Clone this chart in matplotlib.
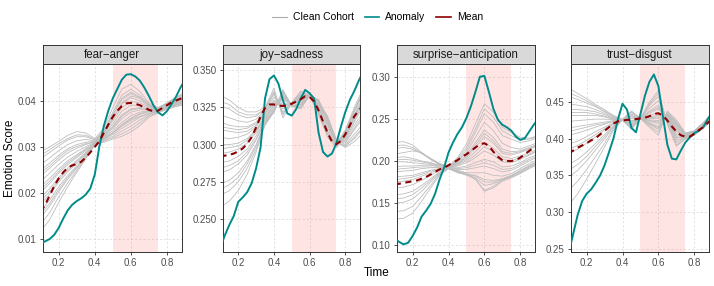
import matplotlib.pyplot as plt
from matplotlib.lines import Line2D

plt.rcParams['font.family'] = ['Liberation Sans', 'DejaVu Sans']

# time grids
x_fine = [0.100, 0.125, 0.150, 0.175, 0.200, 0.225, 0.250, 0.275, 0.300, 0.325, 0.350,
          0.375, 0.400, 0.425, 0.450, 0.475, 0.500, 0.525, 0.550, 0.575, 0.600, 0.625,
          0.650, 0.675, 0.700, 0.725, 0.750, 0.775, 0.800, 0.825, 0.850, 0.875, 0.900]
x_coarse = [0.10, 0.15, 0.20, 0.25, 0.30, 0.35, 0.40, 0.45, 0.50, 0.55, 0.60, 0.65,
            0.70, 0.75, 0.80, 0.85, 0.90]

# ---- fear-anger
fa_anomaly = [0.0092, 0.0096, 0.0101, 0.0110, 0.0125, 0.0145, 0.0163, 0.0175, 0.0183, 0.0189, 0.0197,
              0.0210, 0.0240, 0.0300, 0.0345, 0.0378, 0.0405, 0.0425, 0.0445, 0.0456, 0.0457, 0.0452,
              0.0443, 0.0428, 0.0410, 0.0390, 0.0375, 0.0368, 0.0377, 0.0392, 0.0408, 0.0428, 0.0445]
fa_mean = [0.0160, 0.0175, 0.0195, 0.0215, 0.0232, 0.0245, 0.0255, 0.0260, 0.0263, 0.0268, 0.0277,
           0.0288, 0.0300, 0.0312, 0.0330, 0.0348, 0.0365, 0.0378, 0.0388, 0.0394, 0.0395, 0.0393,
           0.0390, 0.0385, 0.0380, 0.0377, 0.0378, 0.0384, 0.0390, 0.0396, 0.0400, 0.0404, 0.0407]
fa_cohort = [
    [0.0290, 0.0300, 0.0312, 0.0325, 0.0333, 0.0330, 0.0318, 0.0340, 0.0385, 0.0425, 0.0435, 0.0420, 0.0395, 0.0385, 0.0395, 0.0408, 0.0418],
    [0.0282, 0.0294, 0.0307, 0.0318, 0.0326, 0.0325, 0.0316, 0.0330, 0.0360, 0.0395, 0.0410, 0.0405, 0.0391, 0.0384, 0.0394, 0.0406, 0.0416],
    [0.0275, 0.0288, 0.0302, 0.0315, 0.0322, 0.0322, 0.0315, 0.0335, 0.0375, 0.0412, 0.0424, 0.0412, 0.0392, 0.0383, 0.0393, 0.0405, 0.0415],
    [0.0262, 0.0276, 0.0292, 0.0305, 0.0313, 0.0316, 0.0313, 0.0332, 0.0368, 0.0402, 0.0415, 0.0406, 0.0390, 0.0382, 0.0392, 0.0403, 0.0413],
    [0.0250, 0.0265, 0.0282, 0.0296, 0.0305, 0.0310, 0.0312, 0.0330, 0.0362, 0.0393, 0.0406, 0.0400, 0.0388, 0.0381, 0.0391, 0.0402, 0.0411],
    [0.0244, 0.0259, 0.0277, 0.0292, 0.0301, 0.0307, 0.0311, 0.0333, 0.0370, 0.0405, 0.0418, 0.0408, 0.0389, 0.0381, 0.0390, 0.0401, 0.0410],
    [0.0238, 0.0254, 0.0272, 0.0287, 0.0297, 0.0305, 0.0311, 0.0328, 0.0356, 0.0385, 0.0398, 0.0395, 0.0386, 0.0380, 0.0390, 0.0400, 0.0409],
    [0.0226, 0.0243, 0.0262, 0.0278, 0.0290, 0.0300, 0.0310, 0.0326, 0.0350, 0.0377, 0.0390, 0.0390, 0.0384, 0.0380, 0.0389, 0.0399, 0.0407],
    [0.0214, 0.0232, 0.0252, 0.0270, 0.0283, 0.0296, 0.0309, 0.0324, 0.0345, 0.0369, 0.0382, 0.0385, 0.0382, 0.0379, 0.0388, 0.0397, 0.0405],
    [0.0208, 0.0226, 0.0247, 0.0266, 0.0280, 0.0294, 0.0308, 0.0318, 0.0330, 0.0348, 0.0362, 0.0372, 0.0377, 0.0378, 0.0386, 0.0395, 0.0402],
    [0.0202, 0.0221, 0.0243, 0.0262, 0.0277, 0.0292, 0.0308, 0.0322, 0.0340, 0.0361, 0.0375, 0.0380, 0.0380, 0.0378, 0.0387, 0.0396, 0.0403],
    [0.0190, 0.0210, 0.0234, 0.0254, 0.0271, 0.0288, 0.0307, 0.0320, 0.0335, 0.0353, 0.0367, 0.0375, 0.0378, 0.0378, 0.0386, 0.0394, 0.0401],
    [0.0183, 0.0204, 0.0229, 0.0250, 0.0268, 0.0286, 0.0306, 0.0321, 0.0342, 0.0366, 0.0380, 0.0383, 0.0380, 0.0377, 0.0386, 0.0394, 0.0400],
    [0.0176, 0.0198, 0.0224, 0.0246, 0.0265, 0.0284, 0.0306, 0.0318, 0.0331, 0.0346, 0.0360, 0.0370, 0.0376, 0.0377, 0.0385, 0.0393, 0.0399],
    [0.0162, 0.0185, 0.0214, 0.0238, 0.0259, 0.0281, 0.0305, 0.0316, 0.0327, 0.0340, 0.0352, 0.0364, 0.0373, 0.0376, 0.0384, 0.0391, 0.0397],
    [0.0155, 0.0178, 0.0208, 0.0234, 0.0256, 0.0279, 0.0305, 0.0317, 0.0330, 0.0345, 0.0357, 0.0366, 0.0372, 0.0376, 0.0384, 0.0391, 0.0396],
    [0.0148, 0.0172, 0.0203, 0.0230, 0.0254, 0.0278, 0.0305, 0.0314, 0.0323, 0.0334, 0.0345, 0.0358, 0.0370, 0.0375, 0.0383, 0.0390, 0.0395],
    [0.0133, 0.0158, 0.0192, 0.0222, 0.0249, 0.0276, 0.0304, 0.0312, 0.0320, 0.0328, 0.0338, 0.0352, 0.0367, 0.0374, 0.0382, 0.0388, 0.0393],
    [0.0118, 0.0143, 0.0180, 0.0214, 0.0245, 0.0274, 0.0304, 0.0310, 0.0317, 0.0323, 0.0332, 0.0346, 0.0364, 0.0373, 0.0381, 0.0387, 0.0391],
]

# ---- joy-sadness
js_anomaly = [0.231, 0.239, 0.246, 0.252, 0.2615, 0.2645, 0.268, 0.274, 0.284, 0.298, 0.331,
              0.344, 0.3465, 0.341, 0.330, 0.321, 0.3195, 0.324, 0.331, 0.3368, 0.3345, 0.331,
              0.308, 0.295, 0.292, 0.294, 0.301, 0.312, 0.322, 0.330, 0.336, 0.343, 0.349]
js_mean = [0.2918, 0.2926, 0.2932, 0.2940, 0.2955, 0.2974, 0.3005, 0.3050, 0.3115, 0.3190, 0.3245,
           0.3270, 0.3270, 0.3262, 0.3260, 0.3263, 0.3275, 0.3290, 0.3305, 0.3325, 0.3320, 0.3290,
           0.3230, 0.3155, 0.3080, 0.3020, 0.3003, 0.3025, 0.3070, 0.3130, 0.3190, 0.3230, 0.3260]
js_cohort = [
    [0.333, 0.330, 0.325, 0.322, 0.322, 0.325, 0.338, 0.318, 0.328, 0.336, 0.333, 0.320, 0.305, 0.298, 0.305, 0.318, 0.330],
    [0.329, 0.327, 0.322, 0.320, 0.320, 0.324, 0.335, 0.321, 0.328, 0.333, 0.333, 0.322, 0.308, 0.300, 0.306, 0.319, 0.331],
    [0.326, 0.324, 0.320, 0.318, 0.319, 0.324, 0.336, 0.320, 0.328, 0.335, 0.333, 0.321, 0.307, 0.299, 0.307, 0.320, 0.332],
    [0.320, 0.318, 0.316, 0.315, 0.317, 0.323, 0.334, 0.322, 0.328, 0.334, 0.333, 0.322, 0.309, 0.299, 0.308, 0.322, 0.334],
    [0.315, 0.313, 0.312, 0.312, 0.315, 0.322, 0.332, 0.324, 0.327, 0.333, 0.333, 0.323, 0.311, 0.300, 0.309, 0.323, 0.336],
    [0.312, 0.311, 0.310, 0.311, 0.314, 0.321, 0.329, 0.327, 0.327, 0.331, 0.333, 0.325, 0.314, 0.301, 0.309, 0.323, 0.336],
    [0.310, 0.309, 0.308, 0.309, 0.313, 0.321, 0.330, 0.326, 0.327, 0.332, 0.333, 0.324, 0.313, 0.300, 0.310, 0.325, 0.338],
    [0.305, 0.304, 0.305, 0.307, 0.312, 0.320, 0.328, 0.328, 0.327, 0.331, 0.333, 0.325, 0.315, 0.301, 0.308, 0.322, 0.335],
    [0.300, 0.300, 0.301, 0.304, 0.310, 0.319, 0.326, 0.330, 0.327, 0.330, 0.333, 0.326, 0.317, 0.301, 0.306, 0.318, 0.330],
    [0.297, 0.298, 0.299, 0.303, 0.309, 0.318, 0.327, 0.331, 0.327, 0.330, 0.333, 0.327, 0.317, 0.302, 0.305, 0.316, 0.328],
    [0.294, 0.295, 0.297, 0.301, 0.308, 0.318, 0.325, 0.332, 0.327, 0.329, 0.333, 0.327, 0.318, 0.302, 0.304, 0.315, 0.326],
    [0.288, 0.289, 0.292, 0.297, 0.306, 0.317, 0.324, 0.333, 0.326, 0.328, 0.333, 0.328, 0.319, 0.302, 0.303, 0.313, 0.322],
    [0.284, 0.286, 0.289, 0.295, 0.304, 0.316, 0.323, 0.333, 0.326, 0.327, 0.333, 0.329, 0.318, 0.303, 0.302, 0.311, 0.320],
    [0.281, 0.283, 0.287, 0.293, 0.303, 0.316, 0.323, 0.334, 0.326, 0.327, 0.333, 0.329, 0.319, 0.303, 0.301, 0.310, 0.318],
    [0.274, 0.276, 0.281, 0.289, 0.300, 0.315, 0.322, 0.335, 0.326, 0.326, 0.333, 0.329, 0.318, 0.303, 0.300, 0.307, 0.314],
    [0.270, 0.273, 0.278, 0.287, 0.299, 0.314, 0.322, 0.336, 0.326, 0.325, 0.333, 0.330, 0.317, 0.302, 0.299, 0.305, 0.312],
    [0.266, 0.269, 0.275, 0.284, 0.297, 0.314, 0.322, 0.336, 0.326, 0.325, 0.333, 0.330, 0.317, 0.302, 0.299, 0.304, 0.311],
    [0.258, 0.262, 0.269, 0.280, 0.295, 0.313, 0.322, 0.337, 0.326, 0.324, 0.333, 0.330, 0.316, 0.302, 0.298, 0.302, 0.308],
]

# ---- surprise-anticipation
sa_anomaly = [0.108, 0.104, 0.101, 0.103, 0.111, 0.121, 0.134, 0.141, 0.149, 0.161, 0.178,
              0.192, 0.210, 0.222, 0.232, 0.240, 0.251, 0.265, 0.282, 0.300, 0.301, 0.282,
              0.262, 0.249, 0.243, 0.240, 0.236, 0.229, 0.225, 0.227, 0.235, 0.243, 0.250]
sa_mean = [0.172, 0.173, 0.174, 0.175, 0.176, 0.177, 0.179, 0.181, 0.184, 0.187, 0.190,
           0.192, 0.195, 0.198, 0.201, 0.205, 0.208, 0.212, 0.216, 0.220, 0.221, 0.218,
           0.211, 0.205, 0.201, 0.200, 0.200, 0.201, 0.204, 0.208, 0.212, 0.216, 0.219]
sa_cohort = [
    [0.222, 0.223, 0.219, 0.210, 0.202, 0.196, 0.193, 0.204, 0.220, 0.244, 0.268, 0.258, 0.240, 0.234, 0.228, 0.227, 0.230],
    [0.218, 0.219, 0.216, 0.209, 0.202, 0.196, 0.193, 0.202, 0.216, 0.238, 0.262, 0.252, 0.236, 0.230, 0.225, 0.226, 0.229],
    [0.215, 0.216, 0.214, 0.209, 0.203, 0.197, 0.193, 0.200, 0.213, 0.234, 0.256, 0.246, 0.230, 0.226, 0.222, 0.224, 0.228],
    [0.208, 0.210, 0.212, 0.210, 0.203, 0.197, 0.193, 0.199, 0.210, 0.228, 0.246, 0.236, 0.221, 0.216, 0.214, 0.218, 0.222],
    [0.204, 0.205, 0.203, 0.200, 0.198, 0.195, 0.193, 0.198, 0.207, 0.222, 0.237, 0.228, 0.214, 0.211, 0.212, 0.216, 0.220],
    [0.201, 0.202, 0.201, 0.199, 0.197, 0.195, 0.193, 0.197, 0.205, 0.219, 0.233, 0.224, 0.211, 0.209, 0.211, 0.215, 0.219],
    [0.199, 0.199, 0.198, 0.197, 0.196, 0.194, 0.193, 0.197, 0.204, 0.216, 0.229, 0.221, 0.209, 0.207, 0.210, 0.214, 0.218],
    [0.193, 0.194, 0.194, 0.195, 0.195, 0.193, 0.192, 0.196, 0.202, 0.211, 0.222, 0.215, 0.205, 0.203, 0.206, 0.210, 0.214],
    [0.190, 0.191, 0.192, 0.193, 0.193, 0.192, 0.192, 0.195, 0.200, 0.207, 0.217, 0.211, 0.202, 0.200, 0.204, 0.208, 0.213],
    [0.187, 0.188, 0.189, 0.191, 0.192, 0.192, 0.192, 0.194, 0.198, 0.204, 0.212, 0.207, 0.199, 0.198, 0.202, 0.207, 0.212],
    [0.181, 0.182, 0.183, 0.186, 0.189, 0.191, 0.192, 0.192, 0.194, 0.198, 0.202, 0.199, 0.193, 0.194, 0.198, 0.204, 0.208],
    [0.178, 0.179, 0.181, 0.184, 0.188, 0.190, 0.192, 0.191, 0.192, 0.195, 0.198, 0.195, 0.190, 0.191, 0.196, 0.202, 0.206],
    [0.175, 0.176, 0.178, 0.182, 0.186, 0.190, 0.192, 0.190, 0.190, 0.192, 0.194, 0.191, 0.187, 0.189, 0.194, 0.200, 0.205],
    [0.168, 0.169, 0.172, 0.177, 0.183, 0.189, 0.191, 0.189, 0.186, 0.186, 0.186, 0.183, 0.182, 0.185, 0.191, 0.197, 0.202],
    [0.160, 0.161, 0.164, 0.171, 0.179, 0.187, 0.191, 0.188, 0.184, 0.183, 0.178, 0.177, 0.179, 0.183, 0.189, 0.195, 0.200],
    [0.155, 0.156, 0.160, 0.168, 0.177, 0.186, 0.191, 0.188, 0.184, 0.182, 0.175, 0.175, 0.178, 0.182, 0.188, 0.194, 0.199],
    [0.150, 0.151, 0.155, 0.164, 0.175, 0.185, 0.191, 0.187, 0.183, 0.180, 0.171, 0.173, 0.178, 0.182, 0.187, 0.193, 0.198],
    [0.140, 0.141, 0.146, 0.158, 0.171, 0.184, 0.191, 0.186, 0.184, 0.178, 0.165, 0.170, 0.177, 0.181, 0.186, 0.192, 0.197],
    [0.131, 0.132, 0.138, 0.152, 0.168, 0.183, 0.191, 0.187, 0.186, 0.179, 0.164, 0.168, 0.176, 0.180, 0.185, 0.191, 0.196],
]

# ---- trust-disgust
td_anomaly = [0.244, 0.270, 0.296, 0.315, 0.325, 0.331, 0.340, 0.350, 0.364, 0.382, 0.401,
              0.427, 0.448, 0.440, 0.415, 0.409, 0.434, 0.459, 0.478, 0.488, 0.472, 0.431,
              0.392, 0.373, 0.372, 0.384, 0.395, 0.402, 0.408, 0.411, 0.416, 0.427, 0.436]
td_mean = [0.380, 0.384, 0.388, 0.391, 0.394, 0.398, 0.401, 0.406, 0.411, 0.416, 0.421,
           0.424, 0.425, 0.426, 0.426, 0.427, 0.428, 0.429, 0.431, 0.434, 0.435, 0.432,
           0.425, 0.417, 0.410, 0.405, 0.403, 0.403, 0.407, 0.412, 0.416, 0.422, 0.427]
td_cohort = [
    [0.470, 0.462, 0.455, 0.447, 0.440, 0.432, 0.427, 0.438, 0.428, 0.450, 0.466, 0.420, 0.390, 0.400, 0.405, 0.415, 0.425],
    [0.463, 0.458, 0.452, 0.445, 0.438, 0.431, 0.426, 0.437, 0.428, 0.448, 0.462, 0.421, 0.392, 0.400, 0.405, 0.415, 0.425],
    [0.458, 0.454, 0.449, 0.444, 0.437, 0.430, 0.426, 0.436, 0.428, 0.446, 0.458, 0.422, 0.395, 0.401, 0.406, 0.416, 0.426],
    [0.448, 0.446, 0.444, 0.440, 0.435, 0.429, 0.426, 0.434, 0.428, 0.442, 0.452, 0.425, 0.398, 0.402, 0.406, 0.416, 0.427],
    [0.440, 0.440, 0.439, 0.437, 0.433, 0.428, 0.426, 0.432, 0.428, 0.438, 0.446, 0.427, 0.401, 0.403, 0.407, 0.417, 0.428],
    [0.436, 0.436, 0.436, 0.434, 0.431, 0.427, 0.426, 0.431, 0.428, 0.437, 0.443, 0.427, 0.402, 0.403, 0.407, 0.417, 0.429],
    [0.432, 0.432, 0.432, 0.432, 0.430, 0.427, 0.426, 0.430, 0.428, 0.435, 0.441, 0.428, 0.404, 0.404, 0.407, 0.418, 0.430],
    [0.424, 0.425, 0.426, 0.427, 0.427, 0.426, 0.426, 0.428, 0.428, 0.432, 0.436, 0.429, 0.407, 0.404, 0.408, 0.419, 0.431],
    [0.415, 0.417, 0.419, 0.421, 0.423, 0.425, 0.426, 0.425, 0.428, 0.430, 0.432, 0.430, 0.410, 0.405, 0.408, 0.419, 0.431],
    [0.410, 0.413, 0.416, 0.419, 0.421, 0.424, 0.426, 0.424, 0.428, 0.429, 0.430, 0.430, 0.411, 0.405, 0.408, 0.419, 0.431],
    [0.405, 0.408, 0.412, 0.416, 0.420, 0.424, 0.426, 0.423, 0.428, 0.428, 0.428, 0.431, 0.413, 0.405, 0.409, 0.420, 0.432],
    [0.393, 0.397, 0.403, 0.410, 0.416, 0.422, 0.426, 0.421, 0.428, 0.426, 0.425, 0.432, 0.415, 0.406, 0.409, 0.420, 0.433],
    [0.386, 0.391, 0.398, 0.406, 0.414, 0.421, 0.426, 0.420, 0.428, 0.425, 0.423, 0.432, 0.416, 0.406, 0.409, 0.420, 0.433],
    [0.380, 0.386, 0.394, 0.403, 0.412, 0.420, 0.426, 0.419, 0.428, 0.424, 0.421, 0.433, 0.418, 0.406, 0.410, 0.421, 0.433],
    [0.365, 0.372, 0.382, 0.394, 0.406, 0.418, 0.426, 0.417, 0.428, 0.422, 0.417, 0.434, 0.420, 0.407, 0.410, 0.421, 0.434],
    [0.357, 0.365, 0.376, 0.390, 0.403, 0.417, 0.426, 0.416, 0.428, 0.421, 0.415, 0.435, 0.421, 0.407, 0.410, 0.421, 0.434],
    [0.348, 0.357, 0.370, 0.385, 0.400, 0.416, 0.426, 0.415, 0.428, 0.420, 0.413, 0.435, 0.422, 0.407, 0.410, 0.422, 0.434],
    [0.330, 0.342, 0.358, 0.376, 0.394, 0.414, 0.426, 0.414, 0.428, 0.418, 0.409, 0.437, 0.424, 0.408, 0.411, 0.422, 0.435],
    [0.310, 0.325, 0.345, 0.367, 0.389, 0.412, 0.426, 0.413, 0.428, 0.416, 0.405, 0.438, 0.426, 0.408, 0.411, 0.422, 0.435],
]

titles = ['fear\u2212anger', 'joy\u2212sadness', 'surprise\u2212anticipation', 'trust\u2212disgust']
cohorts = [fa_cohort, js_cohort, sa_cohort, td_cohort]
anomalies = [fa_anomaly, js_anomaly, sa_anomaly, td_anomaly]
means = [fa_mean, js_mean, sa_mean, td_mean]
ylims = [(0.0073, 0.0479), (0.2278, 0.3542), (0.092, 0.3151), (0.2455, 0.5023)]
yticks = [[0.01, 0.02, 0.03, 0.04],
          [0.250, 0.275, 0.300, 0.325, 0.350],
          [0.10, 0.15, 0.20, 0.25, 0.30],
          [0.25, 0.30, 0.35, 0.40, 0.45]]
yfmt = ['{:.2f}', '{:.3f}', '{:.2f}', '{:.2f}']
xticks = [0.2, 0.4, 0.6, 0.8]
xtick_labels = ['0.2', '0.4', '0.6', '0.8']

W, H = 714, 286
lefts = [43, 222.7, 397, 571]
rights = [181.7, 360, 535, 709]

fig = plt.figure(figsize=(W / 100, H / 100), dpi=100)

for i in range(4):
    l = lefts[i] / W
    w = (rights[i] - lefts[i]) / W
    ax = fig.add_axes([l, 34 / H, w, 188 / H])
    ax.set_axisbelow(True)
    ax.grid(True, linestyle=(0, (3, 3)), color='#D5D5D5', linewidth=0.5)
    ax.axvspan(0.5, 0.75, color='#FF6B6B', alpha=0.18, lw=0, zorder=1)
    for c in cohorts[i]:
        ax.plot(x_coarse, c, color='#BEBEBE', lw=0.6, zorder=2)
    ax.plot(x_fine, anomalies[i], color='#008B8B', lw=1.4, zorder=3)
    ax.plot(x_fine, means[i], color='#8B0000', lw=1.5, dashes=(3, 2.2), zorder=4)
    ax.set_xlim(0.113, 0.882)
    ax.set_ylim(*ylims[i])
    ax.set_xticks(xticks)
    ax.set_xticklabels(xtick_labels)
    ax.set_yticks(yticks[i])
    ax.set_yticklabels([yfmt[i].format(v) for v in yticks[i]])
    ax.tick_params(labelsize=7, labelcolor='#4D4D4D', color='#333333',
                   length=2.5, width=0.6, pad=2)
    for s in ax.spines.values():
        s.set_color('#333333')
        s.set_linewidth(0.7)

    sx = fig.add_axes([l, 222 / H, w, 19 / H])
    sx.set_facecolor('#D9D9D9')
    sx.set_xticks([])
    sx.set_yticks([])
    for s in sx.spines.values():
        s.set_color('#333333')
        s.set_linewidth(0.7)
    sx.text(0.5, 0.47, titles[i], ha='center', va='center', fontsize=8.3,
            color='#1A1A1A', transform=sx.transAxes)

fig.text(0.014, 0.448, 'Emotion Score', rotation=90, ha='center', va='center', fontsize=8.5)
fig.text(0.528, 0.045, 'Time', ha='center', va='center', fontsize=8.5)

handles = [Line2D([], [], color='#AAAAAA', lw=0.8),
           Line2D([], [], color='#008B8B', lw=1.2),
           Line2D([], [], color='#8B0000', lw=1.2)]
fig.legend(handles, ['Clean Cohort', 'Anomaly', 'Mean'], loc='center',
           bbox_to_anchor=(0.529, 0.94), ncol=3, frameon=False, fontsize=7.5,
           handlelength=1.4, handletextpad=0.6, columnspacing=1.0)

fig.savefig('out.png', dpi=100)
